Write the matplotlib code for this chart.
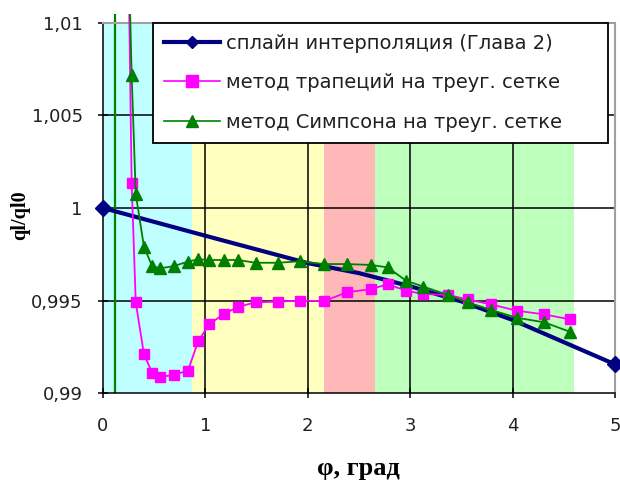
import matplotlib.pyplot as plt
from matplotlib.lines import Line2D
from matplotlib.patches import Rectangle

# углы, град
phi = [0.24, 0.28, 0.32, 0.40, 0.48, 0.56, 0.69, 0.83, 0.93, 1.04, 1.18, 1.32, 1.49,
       1.71, 1.92, 2.16, 2.38, 2.62, 2.78, 2.96, 3.13, 3.37, 3.56, 3.79, 4.04, 4.31, 4.56]

# метод трапеций на треугольной сетке
trap = [1.0170, 1.00134, 0.99490, 0.99209, 0.99110, 0.99088, 0.99097, 0.99121, 0.99281,
        0.99373, 0.99427, 0.99466, 0.99490, 0.99494, 0.99499, 0.99497, 0.99544, 0.99562,
        0.99588, 0.99553, 0.99535, 0.99530, 0.99506, 0.99479, 0.99445, 0.99425, 0.99398]

# метод Симпсона на треугольной сетке
simp = [1.0160, 1.00719, 1.00076, 0.99791, 0.99686, 0.99674, 0.99686, 0.99710, 0.99723,
        0.99719, 0.99719, 0.99719, 0.99704, 0.99704, 0.99712, 0.99697, 0.99697, 0.99692,
        0.99679, 0.99607, 0.99575, 0.99530, 0.99490, 0.99449, 0.99407, 0.99382, 0.99331]

# сплайн интерполяция (Глава 2)
phi_spl = [0, 0.5, 1, 1.5, 2, 2.5, 3, 3.5, 4, 4.5, 5]
spl = [1.0, 0.99925, 0.99850, 0.99776, 0.99702, 0.99648, 0.99577, 0.99495, 0.99395,
       0.99275, 0.99155]

# цветные зоны по оси φ
zones = [(0, 0.867), (0.867, 2.16), (2.16, 2.66), (2.66, 4.6)]
zone_colors = ['#C0FFFF', '#FFFFC0', '#FFB8B8', '#BEFFBE']

phi_mark = 0.115

plt.rcParams['font.family'] = ['DejaVu Sans']

fig = plt.figure(figsize=(6.2, 4.83), dpi=100)
ax = fig.add_axes([0.1661, 0.1863, 0.8258, 0.7661])

for (a, b), c in zip(zones, zone_colors):
    ax.axvspan(a, b, color=c, lw=0, zorder=0)

for x in [1, 2, 3, 4]:
    ax.axvline(x, color='black', lw=1.1, zorder=1)
for y in [0.995, 1.0, 1.005]:
    ax.axhline(y, color='black', lw=1.1, zorder=1)

# линии немного выходят за верх области построения
clip = Rectangle((0, 0), 1, 1.025, transform=ax.transAxes, visible=False)
ax.add_patch(clip)

vl = ax.axvline(phi_mark, ymin=0, ymax=1.025, color='#008000', lw=1.6, zorder=2)
vl.set_clip_path(clip)

ax.plot(phi_spl, spl, color='#000080', lw=3, zorder=3)
ax.plot([phi_spl[0], phi_spl[-1]], [spl[0], spl[-1]], ls='none', marker='D', ms=8,
        color='#000080', zorder=3, clip_on=False)

l1, = ax.plot(phi, trap, color='#FF00FF', lw=1.3, marker='s', ms=7,
              mec='#FF00FF', mfc='#FF00FF', zorder=4)
l2, = ax.plot(phi, simp, color='#008000', lw=1.3, marker='^', ms=8,
              mec='#008000', mfc='#008000', zorder=5)
for ln in (l1, l2):
    ln.set_clip_path(clip)

ax.set_xlim(0, 5)
ax.set_ylim(0.99, 1.01)
ax.set_xticks([0, 1, 2, 3, 4, 5])
ax.set_xticklabels(['0', '1', '2', '3', '4', '5'])
ax.set_yticks([0.99, 0.995, 1.0, 1.005, 1.01])
ax.set_yticklabels(['0,99', '0,995', '1', '1,005', '1,01'])
ax.tick_params(direction='inout', length=7, width=1.1, labelsize=13, color='black',
               labelcolor='#202020')
ax.tick_params(axis='x', pad=14)
ax.tick_params(axis='y', pad=11)

for s in ['left', 'bottom']:
    ax.spines[s].set_color('black')
    ax.spines[s].set_linewidth(1.1)
for s in ['top', 'right']:
    ax.spines[s].set_color('#A0A0A0')
    ax.spines[s].set_linewidth(1.5)

ax.set_xlabel('φ, град', family='Liberation Serif', fontweight='bold', fontsize=19)
ax.xaxis.label.set_va('baseline')
ax.xaxis.set_label_coords(0.498, -0.222)
ax.set_ylabel('ql/ql0', family='Liberation Serif', fontweight='bold', fontsize=14.5)
ax.yaxis.set_label_coords(-0.142, 0.48)

handles = [
    Line2D([], [], color='#000080', lw=3, marker='D', ms=6),
    Line2D([], [], color='#FF00FF', lw=1.2, marker='s', ms=8),
    Line2D([], [], color='#008000', lw=1.2, marker='^', ms=8),
]
labels = ['сплайн интерполяция (Глава 2)', 'метод трапеций на треуг. сетке',
          'метод Симпсона на треуг. сетке']
leg = ax.legend(handles, labels, loc='upper left', mode='expand',
                bbox_to_anchor=(0.0977, 0.5, 0.8887, 0.5),
                borderaxespad=0, fontsize=14, frameon=True, fancybox=False,
                framealpha=1, edgecolor='black', numpoints=1, handlelength=2.9,
                handletextpad=0.3, labelspacing=1.06, borderpad=0.55)
leg.get_frame().set_linewidth(1.3)
leg.set_zorder(10)
for t in leg.get_texts():
    t.set_color('#202020')

fig.savefig('out.png', dpi=100)
